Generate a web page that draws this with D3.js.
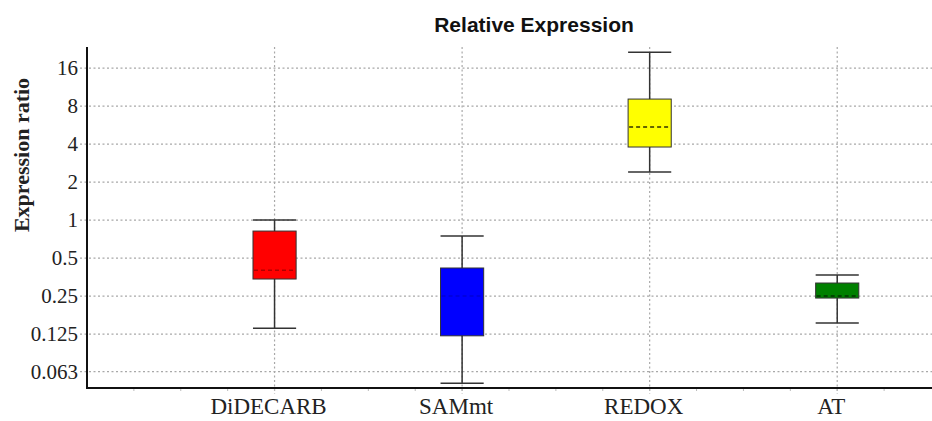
<!DOCTYPE html>
<html>
<head>
<meta charset="utf-8">
<script src="https://cdn.jsdelivr.net/npm/d3@7/dist/d3.min.js"></script>
<style>
  html, body { margin: 0; padding: 0; background: #fff; }
  svg { display: block; }
</style>
</head>
<body>
<svg id="chart" width="932" height="421"></svg>
<script>
// Relative expression per gene (log2 scale), box-and-whisker summary
const categories  = ["DiDECARB", "SAMmt", "REDOX", "AT"];
const whiskerLow  = [0.139, 0.051, 2.4, 0.153];
const q1          = [0.341, 0.121, 3.79, 0.241];
const median      = [0.40, 0.25, 5.45, 0.25];
const q3          = [0.818, 0.417, 9.09, 0.317];
const whiskerHigh = [1.0, 0.747, 21.4, 0.367];

const yTickValues = [0.063, 0.125, 0.25, 0.5, 1, 2, 4, 8, 16];
const yTickLabels = ["0.063", "0.125", "0.25", "0.5", "1", "2", "4", "8", "16"];

const fills   = ["#ff0000", "#0000ff", "#ffff00", "#008000"];
const medianStroke = ["#b00000", "#0000d8", "#333300", "#003300"];

const svg = d3.select("#chart");
const W = 932, H = 421;
const plotLeft = 87, plotRight = 931, plotTop = 47, plotBottom = 388;

// x: categories placed at 1..4 on a continuous axis with quarter-step minor ticks
const x = d3.scaleLinear().domain([0, 4.5]).range([plotLeft, plotRight]);
const y = d3.scaleLog().base(2).domain([0.0467, 23.5]).range([plotBottom, plotTop]);

const boxW = x(0.23) - x(0);

// horizontal dotted grid (extends slightly left of the axis as a tick)
svg.append("g").selectAll("line").data(yTickValues).join("line")
  .attr("x1", plotLeft - 7).attr("x2", W)
  .attr("y1", d => y(d)).attr("y2", d => y(d))
  .attr("stroke", "#a8a8a8").attr("stroke-width", 1.2)
  .attr("stroke-dasharray", "2,2.5");

// vertical dotted grid at each category
svg.append("g").selectAll("line").data(categories).join("line")
  .attr("x1", (d, i) => x(i + 1)).attr("x2", (d, i) => x(i + 1))
  .attr("y1", plotTop).attr("y2", plotBottom + 6)
  .attr("stroke", "#a8a8a8").attr("stroke-width", 1.2)
  .attr("stroke-dasharray", "2,2.5");

// minor x ticks below the axis
svg.append("g").selectAll("line").data(d3.range(0.25, 4.5, 0.25)).join("line")
  .attr("x1", d => x(d)).attr("x2", d => x(d))
  .attr("y1", plotBottom).attr("y2", plotBottom + 3)
  .attr("stroke", "#bbb").attr("stroke-width", 1);

// y tick labels
svg.append("g").selectAll("text").data(yTickValues).join("text")
  .attr("x", 78).attr("y", d => y(d))
  .attr("dy", "0.35em")
  .attr("text-anchor", "end")
  .attr("font-family", "'Liberation Serif', 'Times New Roman', serif")
  .attr("font-size", 21)
  .attr("fill", "#222")
  .text((d, i) => yTickLabels[i]);

// y axis title
svg.append("text")
  .attr("transform", `translate(29,155) rotate(-90)`)
  .attr("text-anchor", "middle")
  .attr("font-family", "'Liberation Serif', 'Times New Roman', serif")
  .attr("font-weight", "bold")
  .attr("font-size", 22)
  .attr("fill", "#222")
  .text("Expression ratio");

// chart title
svg.append("text")
  .attr("x", 534).attr("y", 32)
  .attr("text-anchor", "middle")
  .attr("font-family", "'Liberation Sans', Arial, sans-serif")
  .attr("font-weight", "bold")
  .attr("font-size", 21)
  .attr("fill", "#111")
  .text("Relative Expression");

// x category labels
svg.append("g").selectAll("text").data(categories).join("text")
  .attr("x", (d, i) => x(i + 1) - 6).attr("y", 414)
  .attr("text-anchor", "middle")
  .attr("font-family", "'Liberation Serif', 'Times New Roman', serif")
  .attr("font-size", 23)
  .attr("fill", "#222")
  .text(d => d);

// boxes
const g = svg.append("g").selectAll("g").data(categories).join("g");

g.append("line")
  .attr("x1", (d, i) => x(i + 1)).attr("x2", (d, i) => x(i + 1))
  .attr("y1", (d, i) => y(whiskerHigh[i])).attr("y2", (d, i) => y(whiskerLow[i]))
  .attr("stroke", "#333").attr("stroke-width", 1.5);

g.append("line")
  .attr("x1", (d, i) => x(i + 1) - boxW / 2).attr("x2", (d, i) => x(i + 1) + boxW / 2)
  .attr("y1", (d, i) => y(whiskerHigh[i])).attr("y2", (d, i) => y(whiskerHigh[i]))
  .attr("stroke", "#333").attr("stroke-width", 1.5);

g.append("line")
  .attr("x1", (d, i) => x(i + 1) - boxW / 2).attr("x2", (d, i) => x(i + 1) + boxW / 2)
  .attr("y1", (d, i) => y(whiskerLow[i])).attr("y2", (d, i) => y(whiskerLow[i]))
  .attr("stroke", "#333").attr("stroke-width", 1.5);

g.append("rect")
  .attr("x", (d, i) => x(i + 1) - boxW / 2)
  .attr("width", boxW)
  .attr("y", (d, i) => y(q3[i]))
  .attr("height", (d, i) => y(q1[i]) - y(q3[i]))
  .attr("fill", (d, i) => fills[i])
  .attr("stroke", "#333").attr("stroke-width", 1);

g.append("line")
  .attr("x1", (d, i) => x(i + 1) - boxW / 2 + 1).attr("x2", (d, i) => x(i + 1) + boxW / 2 - 1)
  .attr("y1", (d, i) => y(median[i])).attr("y2", (d, i) => y(median[i]))
  .attr("stroke", (d, i) => medianStroke[i]).attr("stroke-width", 1.5)
  .attr("stroke-dasharray", "4,3");

// axes lines
svg.append("line")
  .attr("x1", plotLeft).attr("x2", plotLeft).attr("y1", plotTop).attr("y2", plotBottom + 1)
  .attr("stroke", "#111").attr("stroke-width", 2);
svg.append("line")
  .attr("x1", plotLeft - 1).attr("x2", W).attr("y1", plotBottom).attr("y2", plotBottom)
  .attr("stroke", "#111").attr("stroke-width", 2);
</script>
</body>
</html>
